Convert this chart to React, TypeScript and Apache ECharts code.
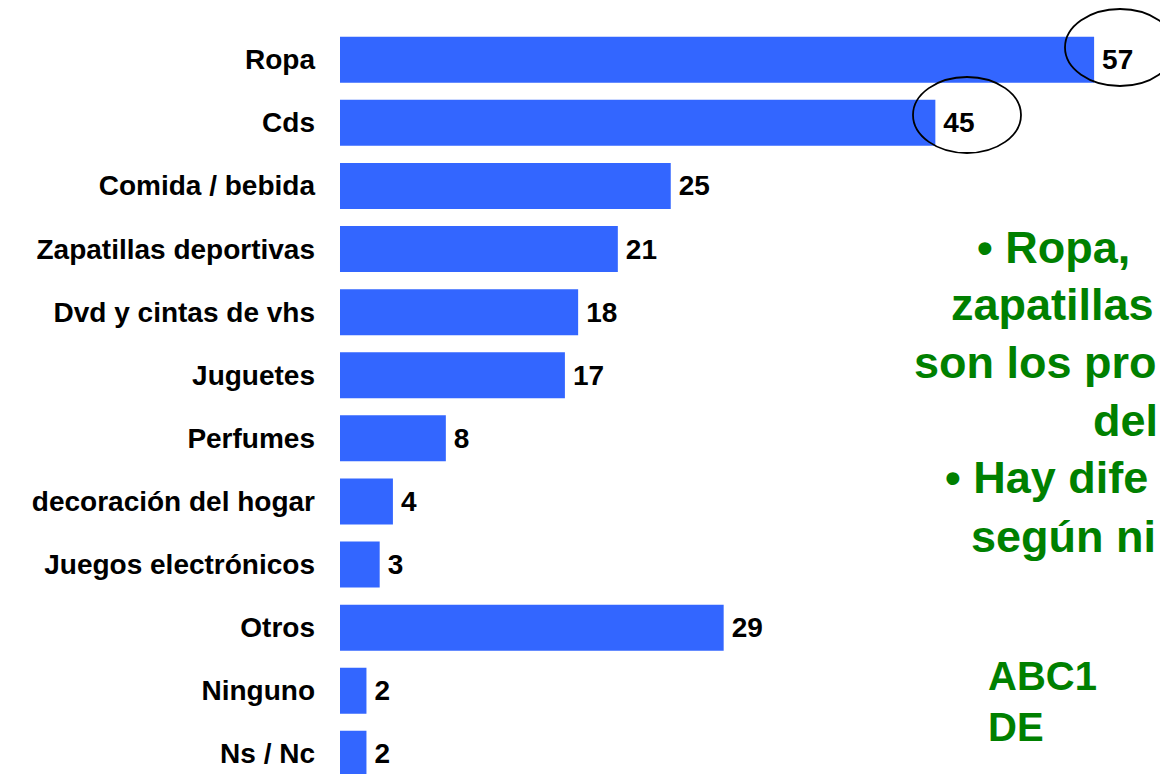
import React, { useEffect, useRef } from "react";
import * as echarts from "echarts";

const categories = [
  "Ropa",
  "Cds",
  "Comida / bebida",
  "Zapatillas deportivas",
  "Dvd y cintas de vhs",
  "Juguetes",
  "Perfumes",
  "decoración del hogar",
  "Juegos electrónicos",
  "Otros",
  "Ninguno",
  "Ns / Nc",
];
const values = [57, 45, 25, 21, 18, 17, 8, 4, 3, 29, 2, 2];

const noteLines = [
  "• Ropa,",
  "zapatillas",
  "son los pro",
  "del",
  "• Hay dife",
  "según ni",
];
const groupLabels = ["ABC1", "DE"];

const GREEN = "#008000";

export default function App() {
  const ref = useRef<HTMLDivElement>(null);
  useEffect(() => {
    if (!ref.current) return;
    const chart = echarts.init(ref.current, undefined, { renderer: "svg" });
    const noteX = [977, 951, 914, 1093, 945, 971];
    const noteY = [247, 304, 362, 420, 477, 536];
    const graphics: any[] = [];
    noteLines.forEach((t, i) => {
      graphics.push({
        type: "text",
        x: noteX[i],
        y: noteY[i],
        z: 10,
        style: {
          text: t,
          fill: GREEN,
          font: "bold 45px 'Liberation Sans', Arial, sans-serif",
          textAlign: "left",
          textVerticalAlign: "middle",
        },
      });
    });
    groupLabels.forEach((t, i) => {
      graphics.push({
        type: "text",
        x: 988,
        y: 676 + i * 51,
        z: 10,
        style: {
          text: t,
          fill: GREEN,
          font: "bold 40px 'Liberation Sans', Arial, sans-serif",
          textAlign: "left",
          textVerticalAlign: "middle",
        },
      });
    });
    graphics.push({
      type: "ellipse",
      z: 20,
      shape: { cx: 1120, cy: 47.5, rx: 55, ry: 38.5 },
      style: { fill: "none", stroke: "#000", lineWidth: 1.8 },
    });
    graphics.push({
      type: "ellipse",
      z: 20,
      shape: { cx: 967, cy: 115, rx: 54, ry: 38 },
      style: { fill: "none", stroke: "#000", lineWidth: 1.8 },
    });

    chart.setOption({
      animation: false,
      backgroundColor: "#ffffff",
      grid: {
        left: 340,
        top: 28.2,
        width: 793.8,
        height: 757.2,
        containLabel: false,
        outerBoundsMode: "none",
      },
      xAxis: {
        type: "value",
        min: 0,
        max: 60,
        show: false,
      },
      yAxis: {
        type: "category",
        data: categories,
        inverse: true,
        axisLine: { show: false },
        axisTick: { show: false },
        axisLabel: {
          margin: 25,
          color: "#000",
          fontWeight: "bold",
          fontSize: 28,
          fontFamily: "'Liberation Sans', Arial, sans-serif",
        },
      },
      series: [
        {
          type: "bar",
          data: values,
          barWidth: 46,
          itemStyle: { color: "#3366FF" },
          label: {
            show: true,
            position: "right",
            distance: 8,
            color: "#000",
            fontWeight: "bold",
            fontSize: 28,
            fontFamily: "'Liberation Sans', Arial, sans-serif",
          },
        },
      ],
      graphic: graphics,
    });
    return () => chart.dispose();
  }, []);
  return (
    <div
      ref={ref}
      style={{ position: "fixed", left: 0, top: 0, width: 1160, height: 774 }}
    />
  );
}
